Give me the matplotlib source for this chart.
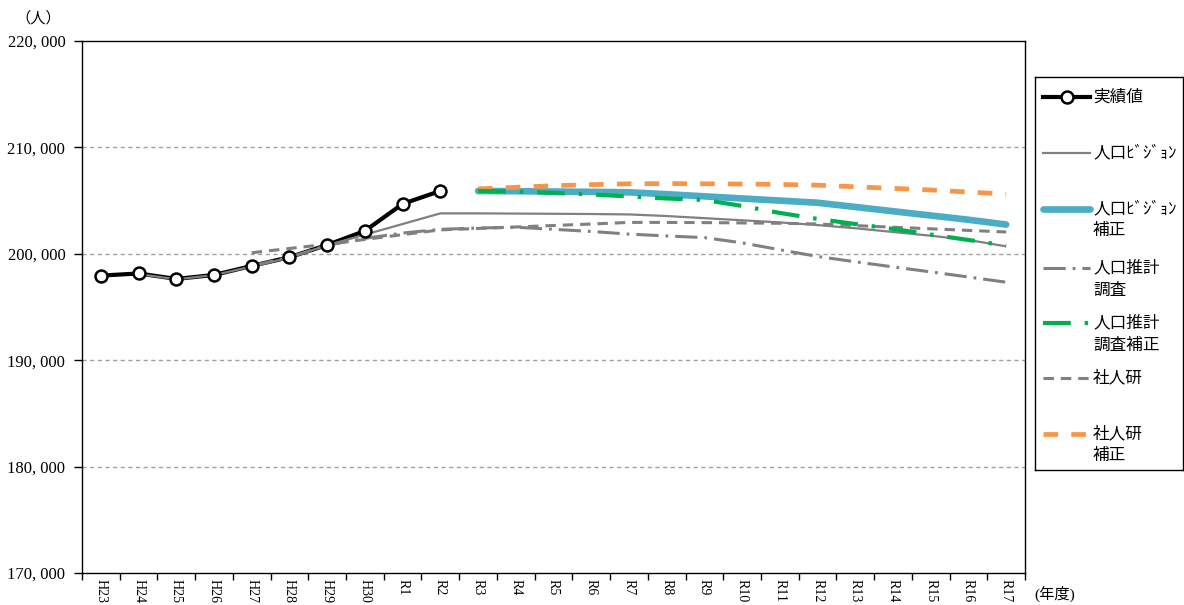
import matplotlib
matplotlib.use("Agg")
import matplotlib.pyplot as plt
import numpy as np

plt.rcParams['font.family'] = ['Liberation Serif', 'Noto Sans CJK JP', 'DejaVu Sans']
plt.rcParams['lines.scale_dashes'] = False

categories = ["H23", "H24", "H25", "H26", "H27", "H28", "H29", "H30",
              "R1", "R2", "R3", "R4", "R5", "R6", "R7", "R8", "R9", "R10",
              "R11", "R12", "R13", "R14", "R15", "R16", "R17"]

actual = [197950, 198150, 197640, 198010, 198860, 199680, 200830, 202150, 204690, 205910]

vision = [None, 198100, 197600, 198000, 198800, 199650, 200800, 201800, 202800, 203800,
          203800, 203780, 203760, 203740, 203700, 203550, 203350, 203150, 202950,
          202700, 202400, 202050, 201700, 201300, 200700]

vision_adj = [None] * 10 + [205900, 205880, 205850, 205820, 205780, 205600, 205400,
                            205200, 205000, 204800, 204400, 204000, 203600, 203200, 202750]

estimate = [None, None, None, None, 198860, 199680, 200800, 201450, 201950, 202300,
            202420, 202500, 202300, 202100, 201850, 201680, 201520, 201030, 200380,
            199750, 199250, 198770, 198300, 197820, 197330]

estimate_adj = [None] * 10 + [205900, 205850, 205720, 205580, 205390, 205200, 205060,
                              204500, 203840, 203280, 202800, 202340, 201810, 201300, 200770]

ipss = [None, None, None, None, 200100, 200500, 200900, 201350, 201800, 202250,
        202380, 202520, 202660, 202800, 202950, 202950, 202930, 202900, 202870,
        202800, 202650, 202500, 202350, 202200, 202050]

ipss_adj = [None] * 10 + [206100, 206250, 206400, 206500, 206580, 206600, 206580,
                          206560, 206520, 206450, 206300, 206150, 206000, 205800, 205620]

yticks = [170000, 180000, 190000, 200000, 210000, 220000]

def arr(v):
    return np.array([np.nan if x is None else x for x in v], dtype=float)

W, H = 1184, 605
fig = plt.figure(figsize=(W / 100, H / 100), dpi=100)
ax = fig.add_axes([82 / W, 1 - 573 / H, (1025 - 82) / W, (573 - 41) / H])

x = np.arange(len(categories))

GRAY = '#808080'
st = dict(solid_capstyle='butt', dash_capstyle='butt')
ax.plot(x[:len(actual)], actual, color='black', lw=3.0, zorder=3)
ax.plot(x, arr(ipss), color=GRAY, lw=2.2, dashes=(7.5, 5), zorder=4, **st)
ax.plot(x, arr(estimate), color=GRAY, lw=2.2, dashes=(16, 5, 2, 5), zorder=4, **st)
ax.plot(x, arr(vision), color=GRAY, lw=1.6, zorder=5, **st)
ax.plot(x, arr(vision_adj), color='#4BACC6', lw=4.8, zorder=5, solid_capstyle='round')
ax.plot(x, arr(ipss_adj), color='#F79646', lw=3.4, dashes=(10.5, 9.5), zorder=6, **st)
ax.plot(x, arr(estimate_adj), color='#00B050', lw=3.0, dashes=(20, 10, 2.5, 10), zorder=6, **st)
ax.plot(x[:len(actual)], actual, linestyle='none', marker='o', markersize=8.6,
        markerfacecolor='white', markeredgecolor='black', markeredgewidth=1.8, zorder=8)

ax.set_xlim(-0.5, len(categories) - 0.5)
ax.set_ylim(170000, 220000)
ax.set_yticks(yticks)
ax.set_yticklabels([f"{v:,}".replace(",", ", ") for v in yticks], fontsize=12)
for v in yticks[1:-1]:
    ax.axhline(v, color='#A0A0A0', lw=1.0, dashes=(3, 2.5), zorder=1)

ax.set_xticks(np.arange(-0.5, len(categories), 1.0))
ax.set_xticklabels([])
ax.set_xticks(x, minor=True)
ax.set_xticklabels(categories, minor=True, rotation=270, fontsize=10)
ax.tick_params(axis='x', which='major', direction='out', length=5, width=1)
ax.tick_params(axis='x', which='minor', length=0, pad=4)
ax.tick_params(axis='y', direction='out', length=6, width=1, pad=6)
for s in ax.spines.values():
    s.set_linewidth(1.0)
    s.set_color('black')

fig.text(15 / W, 1 - 18 / H, "（人）", fontsize=11, va='center', ha='left')
fig.text(1034 / W, 1 - 594 / H, "(年度)", fontsize=11, va='center', ha='left')

# legend
lg = fig.add_axes([1035 / W, 1 - 470 / H, 148 / W, 393 / H])
lg.set_xlim(1035, 1183)
lg.set_ylim(470, 77)
lg.set_xticks([])
lg.set_yticks([])
for s in lg.spines.values():
    s.set_linewidth(1.0)
    s.set_color('black')

entries = [
    (97, ["実績値"], dict(color='black', lw=3.0, marker='o')),
    (153, ["人口ﾋﾞｼﾞｮﾝ"], dict(color=GRAY, lw=1.6)),
    (209, ["人口ﾋﾞｼﾞｮﾝ", "補正"], dict(color='#4BACC6', lw=4.8, solid_capstyle='round')),
    (268, ["人口推計", "調査"], dict(color=GRAY, lw=2.2, dashes=(16, 5, 2, 5))),
    (323, ["人口推計", "調査補正"], dict(color='#00B050', lw=3.0, dashes=(20, 10, 2.5, 10))),
    (378, ["社人研"], dict(color=GRAY, lw=2.2, dashes=(7.5, 5))),
    (434, ["社人研", "補正"], dict(color='#F79646', lw=3.4, dashes=(10.5, 9.5))),
]
for yy, lines, kw in entries:
    kw = dict(kw)
    has_marker = kw.pop('marker', None) is not None
    lg.plot([1043, 1090], [yy, yy], dash_capstyle='butt', **kw)
    if has_marker:
        lg.plot([1066.5], [yy], linestyle='none', marker='o', markersize=8.6,
                markerfacecolor='white', markeredgecolor='black', markeredgewidth=1.8)
    for i, t in enumerate(lines):
        lg.text(1093, yy + 22 * i, t, fontsize=12, va='center', ha='left',
                family=['Noto Sans CJK JP', 'DejaVu Sans'])

fig.savefig("out.png", dpi=100)
